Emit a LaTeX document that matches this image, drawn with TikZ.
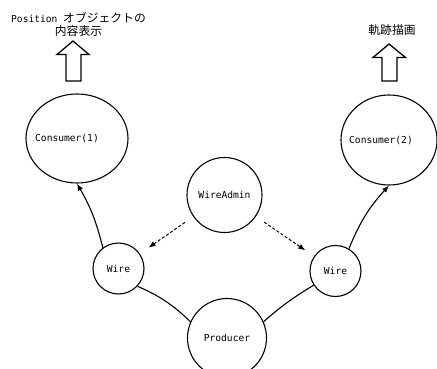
\documentclass[tikz,border=0pt]{standalone}
\usepackage{fontspec}
\setmainfont{DejaVu Sans Mono}
\newfontfamily\cjk{Noto Sans CJK JP}
\usetikzlibrary{arrows.meta,shapes.geometric}
\begin{document}
\begin{tikzpicture}[x=1pt,y=1pt,
  every node/.style={font=\fontsize{9.6}{11}\selectfont},
  bubble/.style={draw,line width=1.1pt,ellipse,inner sep=0pt},
  link/.style={line width=1.1pt},
  flow/.style={line width=1.1pt,-{Latex[length=7pt,width=5.5pt]}},
  ctrl/.style={line width=1pt,dashed,dash pattern=on 3pt off 2pt,-{Latex[length=7pt,width=5.5pt]},shorten <=10pt,shorten >=10.5pt},
  blockarrow/.style={draw,line width=1.3pt,fill=white},
  jp/.style={font=\fontsize{11.8}{11}\cjk},
  title/.style={inner sep=0pt,anchor=base}]
\useasboundingbox (0,0) rectangle (437,368);
\clip (0,0) rectangle (437,368);
% nodes
\node[bubble,minimum width=102pt,minimum height=89pt,label={[xshift=-10pt]center:Consumer(1)}] (c1) at (77,229.5) {};
\node[bubble,minimum width=96pt,minimum height=90pt,label={[xshift=-8pt]center:Consumer(2)}] (c2) at (389,228) {};
\node[bubble,circle,minimum size=75pt] (wa) at (224.5,173) {WireAdmin};
\node[bubble,circle,minimum size=51pt] (wl) at (118.5,99.5) {Wire};
\node[bubble,circle,minimum size=51pt] (wr) at (335.5,97) {Wire};
\node[bubble,circle,minimum size=79pt] (p) at (227,30) {Producer};
% titles
\node[title] (t1a) at (78.5,345) {Position {\fontsize{11.8}{11}\cjk オブジェクトの}};
\node[title,jp] (t1b) at (78.5,332.5) {内容表示};
\node[title,jp] (t2) at (392,333.5) {軌跡描画};
% block arrows
\draw[blockarrow] (66,287) -- (66,313.5) -- (57,313.5) -- (73,327) -- (89,313.5) -- (81,313.5) -- (81,287) -- cycle;
\draw[blockarrow] (382,287) -- (382,310.5) -- (373,310.5) -- (389,324) -- (405.5,310.5) -- (397,310.5) -- (397,287) -- cycle;
% connectors
\draw[flow] (wl.127) to[bend right=8] (c1.south);
\draw[flow] (wr.59) to[bend left=10] (c2.south);
\draw[link] (wl.-43) to[bend left=10] (p.156);
\draw[link] (p.24) to[bend left=5] (wr.213);
\draw[ctrl] (wa) -- (wl);
\draw[ctrl] (wa) -- (wr);
\end{tikzpicture}
\end{document}
